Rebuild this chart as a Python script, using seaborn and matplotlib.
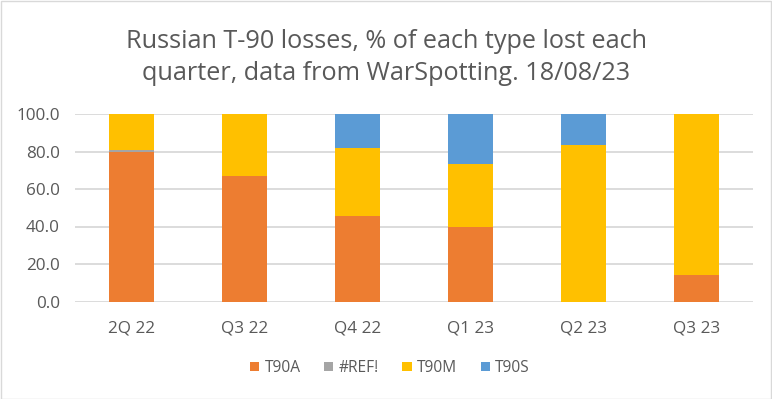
# Russian T-90 losses per quarter, stacked % by type (Excel-style chart)
import numpy as np
import pandas as pd
import matplotlib
matplotlib.use("Agg")
import matplotlib.pyplot as plt
import seaborn as sns

quarters = ["2Q 22", "Q3 22", "Q4 22", "Q1 23", "Q2 23", "Q3 23"]
t90a = [80.0, 66.7, 45.5, 40.0, 0.0, 14.3]
ref_err = [1.0, 0.0, 0.0, 0.0, 0.0, 0.0]
t90m = [19.0, 33.3, 36.4, 33.3, 83.3, 85.7]
t90s = [0.0, 0.0, 18.2, 26.7, 16.7, 0.0]

series = {"T90A": t90a, "#REF!": ref_err, "T90M": t90m, "T90S": t90s}
colors = {"T90A": "#ED7D31", "#REF!": "#A5A5A5", "T90M": "#FFC000", "T90S": "#5B9BD5"}
text_col = "#595959"

sns.set_style("white")
plt.rcParams['font.family'] = ['Open Sans', 'DejaVu Sans']

fig = plt.figure(figsize=(7.72, 3.99), dpi=100)
ax = fig.add_axes([75 / 772, (399 - 301.5) / 399, 678 / 772, (301.5 - 114) / 399])

bottom = np.zeros(len(quarters))
for name, vals in series.items():
    df = pd.DataFrame({"quarter": quarters, "value": vals})
    sns.barplot(data=df, x="quarter", y="value", color=colors[name], width=0.4,
                bottom=bottom, ax=ax, label=name, saturation=1, linewidth=0)
    bottom += np.array(vals)

ax.set_ylim(0, 100)
ax.set_xlim(-0.5, len(quarters) - 0.5)
ax.set_yticks(np.arange(0, 101, 20))
ax.set_yticklabels([f"{v:.1f}" for v in np.arange(0, 101, 20)])
ax.yaxis.grid(True, color="#D9D9D9", linewidth=1.3)
ax.set_axisbelow(True)
for s in ax.spines.values():
    s.set_visible(False)
ax.tick_params(axis="both", length=0, labelsize=12.3, colors=text_col)
ax.tick_params(axis="y", pad=11)
ax.tick_params(axis="x", pad=14)
ax.set_xlabel("")
ax.set_ylabel("")

fig.text(0.5, 1 - 29 / 399,
         "Russian T-90 losses, % of each type lost each\nquarter, data from WarSpotting. 18/08/23",
         ha="center", va="top", fontsize=18.2, color=text_col, linespacing=1.38)

# legend is centred on the whole chart, not the plot area
ax.legend(loc="center", bbox_to_anchor=((390 - 75) / 678, -(368 - 301.5) / (301.5 - 114)),
          ncol=4, frameon=False, fontsize=11.2, labelcolor=text_col, handlelength=0.6,
          handleheight=0.6, handletextpad=0.35, columnspacing=1.5)

fig.patches.append(plt.Rectangle((0.5 / 772, 0.5 / 399), 1 - 1.5 / 772, 1 - 1.5 / 399,
                                 transform=fig.transFigure, fill=False,
                                 edgecolor="#D9D9D9", linewidth=1))

fig.savefig("out.png", dpi=100)
